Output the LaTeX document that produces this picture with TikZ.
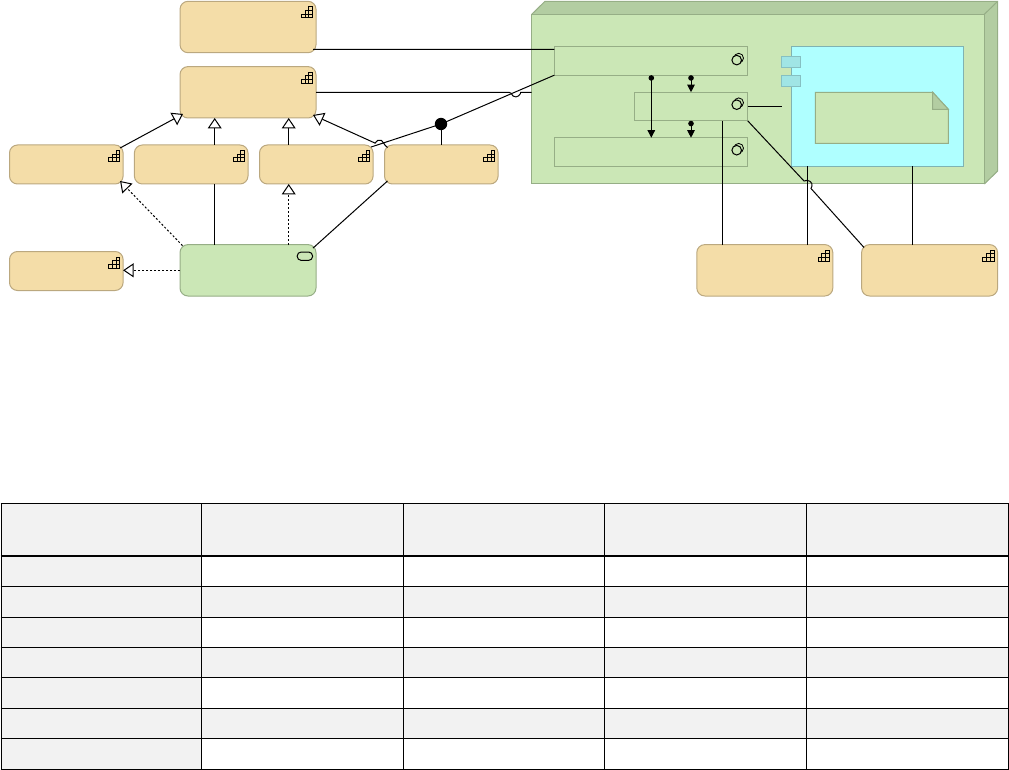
\documentclass[tikz,border=0pt]{standalone}
\usepackage{xcolor}
\usetikzlibrary{arrows.meta,positioning,calc}

\definecolor{asset}{HTML}{F4DDA8}
\definecolor{assetline}{HTML}{BBA87F}
\definecolor{leaf}{HTML}{CBE7B6}
\definecolor{leafline}{HTML}{96AE86}
\definecolor{leafdark}{HTML}{B3CDA2}
\definecolor{aqua}{HTML}{AFFFFF}
\definecolor{aqualine}{HTML}{7FB3B3}
\definecolor{port}{HTML}{A0E5E5}
\definecolor{portline}{HTML}{86C0C2}
\definecolor{tablegrey}{HTML}{F2F2F2}

\tikzset{
    box/.style={rectangle, rounded corners=8pt, outer sep=0pt, inner sep=0pt, line width=1pt},
    assetbig/.style={box, draw=assetline, fill=asset, minimum width=136pt, minimum height=51.4pt},
    assetsmall/.style={box, draw=assetline, fill=asset, minimum width=113.6pt, minimum height=39pt},
    rolebox/.style={box, draw=leafline, fill=leaf, minimum width=136pt, minimum height=51.4pt},
    funcbox/.style={rectangle, draw=leafline, fill=leaf, outer sep=0pt, inner sep=0pt, line width=1pt, minimum height=28.6pt},
    portbox/.style={rectangle, draw=portline, fill=port, outer sep=0pt, inner sep=0pt, line width=1pt, minimum width=19.4pt, minimum height=11pt},
    link/.style={draw=black, line width=1pt},
    special/.style={link, -{Triangle[length=10.5pt,width=14pt,fill=white]}},
    realize/.style={special, dash pattern=on 2pt off 2pt},
    flow/.style={link, {Circle[length=5.5pt]}-{Triangle[length=7.5pt,width=7.5pt]}},
    pics/stairs/.style={code={
        \foreach \col/\first in {0/2,1/1,2/0}
            \foreach \row in {\first,...,2}
                \draw[line width=1pt] (-14.7+\col*3.8,5.5+\row*3.73) rectangle ++(3.8,3.73);
    }},
    pics/twin/.style={code={
        \draw[line width=.8pt] (2,-2) circle (4.8pt);
        \draw[line width=1pt, fill=leaf] (0,0) circle (4.8pt);
    }}
}

\begin{document}
\begin{tikzpicture}[x=1pt, y=-1pt]
\useasboundingbox (0,0) rectangle (1009,770);

\fill[leafdark] (531.7,14.3) -- (545,1.3) -- (997.7,1.3) -- (997.7,171) -- (984.3,184) -- cycle;
\draw[leafline, line width=1pt] (531.7,14.3) -- (545,1.3) -- (997.7,1.3) -- (997.7,171) -- (984.3,184);
\draw[leafline, line width=1pt] (984.3,14.3) -- (997.7,1.3);
\node[rectangle, draw=leafline, fill=leaf, outer sep=0pt, line width=1pt, minimum width=452.6pt, minimum height=169.7pt] (device) at (758,99.15) {};

\node[funcbox, minimum width=193.4pt] (funcone) at (651,60.9) {};
\node[funcbox, minimum width=113.4pt] (functwo) at (691,106.5) {};
\node[funcbox, minimum width=193.4pt] (functhree) at (651,152) {};
\pic at ($(funcone.north east)+(-11,13.5)$) {twin};
\pic at ($(functwo.north east)+(-11,12.5)$) {twin};
\pic at ($(functhree.north east)+(-11,12.5)$) {twin};

\node[rectangle, draw=aqualine, fill=aqua, outer sep=0pt, line width=1pt, minimum width=172pt, minimum height=119.8pt] (comp) at (877.3,106.4) {};
\node[portbox] (portone) at (791,62) {};
\node[portbox] (porttwo) at (791,81) {};
\draw[leafline, fill=leaf, line width=1pt] (815.3,92.3) -- (932.7,92.3) -- (948.3,109.3) -- (948.3,143.5) -- (815.3,143.5) -- cycle;
\draw[leafline, fill=leafdark, line width=1pt] (932.7,92.3) -- (948.3,109.3) -- (932.7,109.3) -- cycle;

\node[assetbig] (top) at (248,27) {};
\node[assetbig] (second) at (248,92.3) {};
\node[assetsmall] (rowa) at (66.3,164.5) {};
\node[assetsmall] (rowb) at (191.2,164.5) {};
\node[assetsmall] (rowc) at (316.3,164.5) {};
\node[assetsmall] (rowd) at (441.3,164.5) {};
\node[assetsmall] (lower) at (66.3,271) {};
\node[rolebox] (role) at (248,270.3) {};
\node[assetbig] (righta) at (764.8,270.3) {};
\node[assetbig] (rightb) at (929.6,270.3) {};

\foreach \name in {top,second,rowa,rowb,rowc,rowd,lower,righta,rightb}
    \pic at (\name.north east) {stairs};
\draw[line width=1pt, rounded corners=4pt] ($(role.north east)+(-18.8,7.4)$) rectangle ++(15.4,8.4);

\coordinate (ball) at (441,124);
\coordinate (colb) at (214.7,0);
\coordinate (colc) at (288.7,0);
\coordinate (colf) at (722.5,0);
\coordinate (colg) at (807.3,0);
\coordinate (colh) at (912.3,0);
\coordinate (flowa) at (651.3,0);
\coordinate (flowb) at (691,0);

\draw[link] ($(top.south east)+(-3,-3.4)$) -- ($(funcone.north west)+(0,2.8)$);
\draw[link] (second.east) -- (509,92.3) .. controls (511,92.3) and (511.5,94) .. (513,96) .. controls (517,99) and (521,94) .. (520.7,92.3) -- (device.west |- second.east);
\draw[link] (funcone.south west) -- (ball);
\draw[link] (ball) -- (ball |- rowd.north);
\draw[link] (ball) -- ($(rowc.north east)+(-2,2)$);
\fill (ball) circle (6.2pt);

\draw[special] ($(rowa.north east)+(-3,3)$) -- ($(second.south west)+(3,-4)$);
\draw[special] (colb |- rowb.north) -- (colb |- second.south);
\draw[special] (colc |- rowc.north) -- (colc |- second.south);
\draw[special] (375.5,143.3) -- ($(second.south east)+(-3,-3)$);
\draw[link] (375,143) .. controls (376,141) and (379,139) .. (381.5,140.5) .. controls (384,142) and (383,144) .. (387.5,147.5);

\draw[realize] ($(role.north west)+(2.5,1)$) -- ($(rowa.south east)+(-3,-3)$);
\draw[realize] (colc |- role.north) -- (colc |- rowc.south);
\draw[realize] (role.west) -- (lower.east |- role.west);
\draw[link] (colb |- role.north) -- (colb |- rowb.south);
\draw[link] ($(role.north east)+(-3,3.5)$) -- ($(rowd.south west)+(3,-3)$);

\draw[flow] (flowa |- funcone.south) -- (flowa |- functhree.north);
\draw[flow] (flowb |- funcone.south) -- (flowb |- functwo.north);
\draw[flow] (flowb |- functwo.south) -- (flowb |- functhree.north);
\draw[link] (functwo.east) -- (781.7,106.5);

\draw[link] (colf |- functwo.south) -- (colf |- righta.north);
\draw[link] (colg |- comp.south) -- (colg |- righta.north);
\draw[link] (colh |- comp.south) -- (colh |- rightb.north);
\draw[link] (functwo.south east) -- (804,181) .. controls (808,179) and (813,182) .. (812,186) -- (811,188.5) -- ($(rightb.north west)+(2.5,3)$);

\foreach \x in {0,...,4}
    \fill[tablegrey] (1+\x*201.75,503.5) rectangle ++(201.75,52);
\foreach \y/\h in {555.5/30.8,586.3/30.7,617/30.3,647.3/30,677.3/31,708.3/30,738.3/31}
    \fill[tablegrey] (1,\y) rectangle (201.3,\y+\h);
\foreach \y/\h in {586.3/30.7,647.3/30,708.3/30}
    \fill[tablegrey] (201.3,\y) rectangle (1008,\y+\h);
\foreach \y in {503.3,586.3,617,647.3,677.3,708.3,738.3,769.3}
    \draw[line width=1pt] (0.5,\y) -- (1008.5,\y);
\draw[line width=2pt] (0.5,555.6) -- (1008.5,555.6);
\foreach \x in {1,201.4,403.4,604.2,806,1008}
    \draw[line width=1pt] (\x,503) -- (\x,769.8);
\end{tikzpicture}
\end{document}
